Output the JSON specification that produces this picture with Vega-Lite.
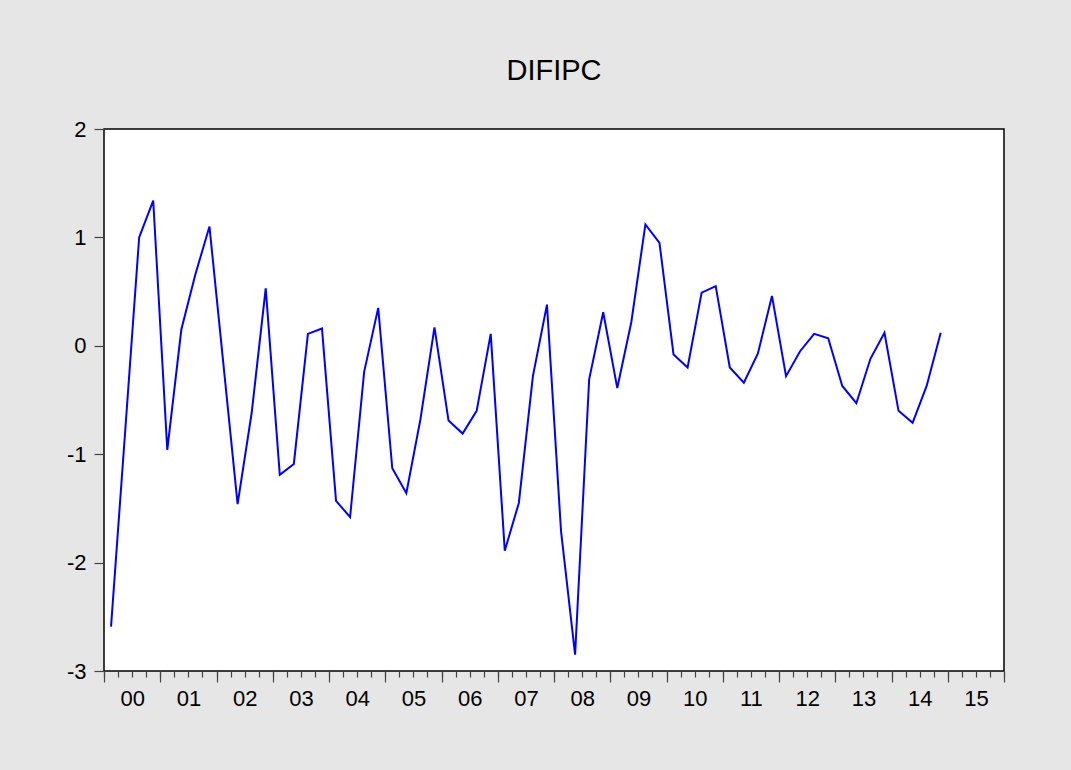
{
  "$schema": "https://vega.github.io/schema/vega-lite/v6.json",
  "autosize": {"type": "none"},
  "width": 900,
  "height": 542,
  "padding": {"left": 104, "top": 129, "right": 67, "bottom": 99},
  "background": "#e6e6e6",
  "title": {
    "text": "DIFIPC",
    "font": "Liberation Sans",
    "fontSize": 29,
    "fontWeight": "normal",
    "color": "#000000",
    "anchor": "middle",
    "baseline": "alphabetic",
    "offset": 9
  },
  "config": {
    "view": {"fill": "#ffffff", "stroke": "#000000", "strokeWidth": 1.5},
    "axis": {
      "labelFont": "Liberation Sans",
      "labelFontSize": 22,
      "labelColor": "#000000",
      "domain": false,
      "grid": false,
      "title": null,
      "tickColor": "#444444",
      "tickWidth": 1.2
    }
  },
  "data": {
    "values": [
      {"time": 2000.125, "value": -2.59},
      {"time": 2000.375, "value": -0.80},
      {"time": 2000.625, "value": 1.00},
      {"time": 2000.875, "value": 1.34},
      {"time": 2001.125, "value": -0.96},
      {"time": 2001.375, "value": 0.15},
      {"time": 2001.625, "value": 0.66},
      {"time": 2001.875, "value": 1.10},
      {"time": 2002.125, "value": -0.18},
      {"time": 2002.375, "value": -1.46},
      {"time": 2002.625, "value": -0.62},
      {"time": 2002.875, "value": 0.53},
      {"time": 2003.125, "value": -1.19},
      {"time": 2003.375, "value": -1.09},
      {"time": 2003.625, "value": 0.11},
      {"time": 2003.875, "value": 0.16},
      {"time": 2004.125, "value": -1.43},
      {"time": 2004.375, "value": -1.58},
      {"time": 2004.625, "value": -0.24},
      {"time": 2004.875, "value": 0.35},
      {"time": 2005.125, "value": -1.13},
      {"time": 2005.375, "value": -1.36},
      {"time": 2005.625, "value": -0.68},
      {"time": 2005.875, "value": 0.17},
      {"time": 2006.125, "value": -0.69},
      {"time": 2006.375, "value": -0.81},
      {"time": 2006.625, "value": -0.60},
      {"time": 2006.875, "value": 0.11},
      {"time": 2007.125, "value": -1.89},
      {"time": 2007.375, "value": -1.45},
      {"time": 2007.625, "value": -0.28},
      {"time": 2007.875, "value": 0.38},
      {"time": 2008.125, "value": -1.71},
      {"time": 2008.375, "value": -2.85},
      {"time": 2008.625, "value": -0.31},
      {"time": 2008.875, "value": 0.31},
      {"time": 2009.125, "value": -0.39},
      {"time": 2009.375, "value": 0.22},
      {"time": 2009.625, "value": 1.12},
      {"time": 2009.875, "value": 0.95},
      {"time": 2010.125, "value": -0.08},
      {"time": 2010.375, "value": -0.20},
      {"time": 2010.625, "value": 0.49},
      {"time": 2010.875, "value": 0.55},
      {"time": 2011.125, "value": -0.20},
      {"time": 2011.375, "value": -0.34},
      {"time": 2011.625, "value": -0.07},
      {"time": 2011.875, "value": 0.46},
      {"time": 2012.125, "value": -0.28},
      {"time": 2012.375, "value": -0.05},
      {"time": 2012.625, "value": 0.11},
      {"time": 2012.875, "value": 0.07},
      {"time": 2013.125, "value": -0.37},
      {"time": 2013.375, "value": -0.53},
      {"time": 2013.625, "value": -0.12},
      {"time": 2013.875, "value": 0.12},
      {"time": 2014.125, "value": -0.60},
      {"time": 2014.375, "value": -0.71},
      {"time": 2014.625, "value": -0.37},
      {"time": 2014.875, "value": 0.12}
    ]
  },
  "encoding": {
    "y": {
      "field": "value", "type": "quantitative",
      "scale": {"domain": [-3, 2], "nice": false, "zero": false},
      "axis": {"values": [-3, -2, -1, 0, 1, 2], "tickSize": 10, "labelPadding": 8, "labelExpr": "'' + datum.value"}
    }
  },
  "layer": [
    {
      "mark": {"type": "line", "strokeOpacity": 0},
      "encoding": {
        "x": {
          "field": "time", "type": "quantitative",
          "scale": {"domain": [2000, 2016], "nice": false, "zero": false},
          "axis": {
            "orient": "bottom",
            "values": [2000, 2000.25, 2000.5, 2000.75, 2001, 2001.25, 2001.5, 2001.75, 2002, 2002.25, 2002.5, 2002.75, 2003, 2003.25, 2003.5, 2003.75, 2004, 2004.25, 2004.5, 2004.75, 2005, 2005.25, 2005.5, 2005.75, 2006, 2006.25, 2006.5, 2006.75, 2007, 2007.25, 2007.5, 2007.75, 2008, 2008.25, 2008.5, 2008.75, 2009, 2009.25, 2009.5, 2009.75, 2010, 2010.25, 2010.5, 2010.75, 2011, 2011.25, 2011.5, 2011.75, 2012, 2012.25, 2012.5, 2012.75, 2013, 2013.25, 2013.5, 2013.75, 2014, 2014.25, 2014.5, 2014.75, 2015, 2015.25, 2015.5, 2015.75, 2016],
            "tickSize": 6,
            "labels": false
          }
        }
      }
    },
    {
      "mark": {"type": "line", "strokeOpacity": 0},
      "encoding": {
        "x": {
          "field": "time", "type": "quantitative",
          "scale": {"domain": [2000, 2016], "nice": false, "zero": false},
          "axis": {
            "orient": "bottom",
            "values": [2000, 2001, 2002, 2003, 2004, 2005, 2006, 2007, 2008, 2009, 2010, 2011, 2012, 2013, 2014, 2015, 2016],
            "tickSize": 11,
            "labels": false
          }
        }
      }
    },
    {
      "mark": {"type": "line", "color": "#0000ff", "strokeWidth": 2},
      "encoding": {
        "x": {
          "field": "time", "type": "quantitative",
          "scale": {"domain": [2000, 2016], "nice": false, "zero": false},
          "axis": {
            "orient": "bottom",
            "values": [2000.5, 2001.5, 2002.5, 2003.5, 2004.5, 2005.5, 2006.5, 2007.5, 2008.5, 2009.5, 2010.5, 2011.5, 2012.5, 2013.5, 2014.5, 2015.5],
            "ticks": false,
            "labelPadding": 17,
            "labelExpr": "(floor(datum.value) % 100 < 10 ? '0' : '') + (floor(datum.value) % 100)"
          }
        }
      }
    }
  ],
  "resolve": {"axis": {"x": "independent"}}
}
